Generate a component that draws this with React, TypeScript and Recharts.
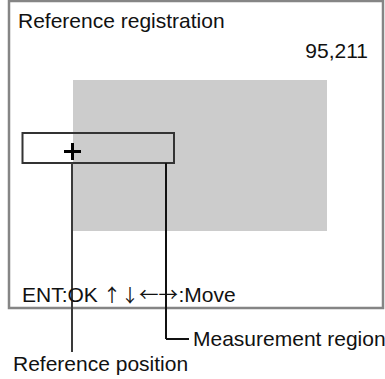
import React from "react";
import { ComposedChart, XAxis, YAxis, ReferenceArea, ReferenceLine, ReferenceDot } from "recharts";

// Screen coordinate space of the diagram (pixels of the display)
const SCREEN_W = 385;
const SCREEN_H = 379;

// Regions [x1, y1, x2, y2]
const screenFrame = [9, 1, 383, 308];
const searchRegion = [73, 80, 327, 231];
const measurementBox = [22.5, 133, 174, 163];

// Reference mark (cross) centre and arm half-length
const crossCenter = [72.5, 151.5];
const crossArm = 8.5;

// Leader lines as point lists [x, y]
const refLeader = [[72, 163], [72, 352]];
const measLeader = [[166, 163], [166, 339], [189, 339]];

// Text labels
const labelTexts = ["Reference registration", "95,211", "Measurement region", "Reference position"];
const labelX = [18, 368, 193, 13];
const labelY = [28, 58, 346, 371];
const labelAnchor = ["start", "end", "start", "start"];

// Key guide line: pieces of text and their start x
const guideParts = ["ENT:OK", "↑", "↓", "←→", ":Move"];
const guideX = [22, 103, 121, 139, 178.5];
const guideSize = [21, 18, 18, 19, 21];
const guideY = 302;

const FONT = "'Liberation Sans', Arial, sans-serif";
const ARROW_FONT = "'Noto Sans CJK JP', 'Noto Sans CJK SC', sans-serif";
const FS = 21;

export default function App() {
  const segs: { a: number[]; b: number[]; color: string; w: number }[] = [];
  for (let i = 0; i < refLeader.length - 1; i++) segs.push({ a: refLeader[i], b: refLeader[i + 1], color: "#3a3a3a", w: 2 });
  for (let i = 0; i < measLeader.length - 1; i++) segs.push({ a: measLeader[i], b: measLeader[i + 1], color: "#111", w: 2 });

  return (
    <div style={{ position: "absolute", left: 0, top: 0, background: "#fff" }}>
      <ComposedChart width={SCREEN_W} height={SCREEN_H} margin={{ top: 0, right: 0, bottom: 0, left: 0 }} data={[{ x: 0, y: 0 }]}>
        <XAxis type="number" dataKey="x" domain={[0, SCREEN_W]} hide allowDataOverflow />
        <YAxis type="number" dataKey="y" domain={[0, SCREEN_H]} reversed hide allowDataOverflow />
        <ReferenceArea x1={searchRegion[0]} x2={searchRegion[2]} y1={searchRegion[1]} y2={searchRegion[3]} fill="#cccccc" fillOpacity={1} stroke="none" ifOverflow="visible" />
        <ReferenceArea x1={screenFrame[0]} x2={screenFrame[2]} y1={screenFrame[1]} y2={screenFrame[3]} fill="none" stroke="#858585" strokeWidth={2.5} ifOverflow="visible" />
        <ReferenceArea x1={measurementBox[0]} x2={measurementBox[2]} y1={measurementBox[1]} y2={measurementBox[3]} fill="none" stroke="#333" strokeWidth={2} ifOverflow="visible" />
        {segs.map((s, i) => (
          <ReferenceLine key={"s" + i} segment={[{ x: s.a[0], y: s.a[1] }, { x: s.b[0], y: s.b[1] }]} stroke={s.color} strokeWidth={s.w} ifOverflow="visible" />
        ))}
        <ReferenceLine segment={[{ x: crossCenter[0] - crossArm, y: crossCenter[1] }, { x: crossCenter[0] + crossArm, y: crossCenter[1] }]} stroke="#000" strokeWidth={3} ifOverflow="visible" />
        <ReferenceLine segment={[{ x: crossCenter[0], y: crossCenter[1] - crossArm }, { x: crossCenter[0], y: crossCenter[1] + crossArm }]} stroke="#000" strokeWidth={3} ifOverflow="visible" />
        {labelTexts.map((t, i) => (
          <ReferenceDot
            key={"t" + i}
            x={labelX[i]}
            y={labelY[i]}
            r={0}
            fill="none"
            stroke="none"
            ifOverflow="visible"
            label={(p: any) => {
              const vb = p.viewBox || {};
              return (
                <text x={vb.x} y={vb.y} textAnchor={labelAnchor[i] as any} fontFamily={FONT} fontSize={FS} fill="#111">
                  {t}
                </text>
              );
            }}
          />
        ))}
        <ReferenceDot
          x={guideX[0]}
          y={guideY}
          r={0}
          fill="none"
          stroke="none"
          ifOverflow="visible"
          label={(p: any) => {
            const vb = p.viewBox || {};
            const dx = (vb.x ?? guideX[0]) - guideX[0];
            return (
              <text x={vb.x} y={vb.y} fontFamily={FONT} fontSize={FS} fill="#111">
                {guideParts.map((t, i) => {
                  const isArrow = /[←→↑↓]/.test(t);
                  return (
                    <tspan
                      key={i}
                      x={guideX[i] + dx}
                      fontSize={guideSize[i]}
                      fontFamily={isArrow ? ARROW_FONT : FONT}
                      {...(t === "←→" ? { textLength: guideX[i + 1] - guideX[i] - 0.5, lengthAdjust: "spacingAndGlyphs" } : {})}
                    >
                      {t}
                    </tspan>
                  );
                })}
              </text>
            );
          }}
        />
      </ComposedChart>
    </div>
  );
}
